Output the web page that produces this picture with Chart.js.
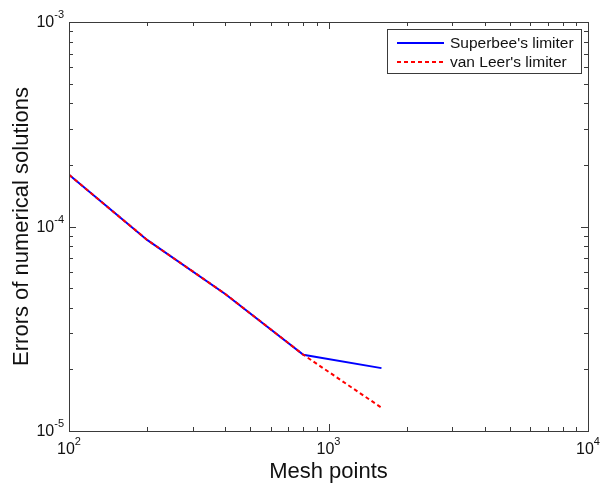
<!DOCTYPE html>
<html><head><meta charset="utf-8">
<script src="https://cdn.jsdelivr.net/npm/chart.js@4/dist/chart.umd.min.js"></script>
<style>html,body{margin:0;padding:0;background:#fff}#wrap{width:600px;height:484px;position:relative}</style>
</head><body><div id="wrap"><canvas id="c" width="600" height="484"></canvas></div>
<script>
const meshPoints = [100, 200, 400, 800, 1600];
const superbee = [1.79e-4, 8.6e-5, 4.68e-5, 2.36e-5, 2.03e-5];
const vanLeer  = [1.79e-4, 8.6e-5, 4.68e-5, 2.36e-5, 1.30e-5];
const seriesLabels = ["Superbee's limiter", "van Leer's limiter"];
const xTickExps = [2, 3, 4];
const yTickExps = [-5, -4, -3];
const xTitle = "Mesh points";
const yTitle = "Errors of numerical solutions";

const FONT = "'Liberation Sans', Arial, sans-serif";
const AX = '#3a3a3a';

const decorPlugin = {
  id: 'decor',
  afterDatasetsDraw(chart) {
    const ctx = chart.ctx, a = chart.chartArea;
    const xs = chart.scales.x, ys = chart.scales.y;
    ctx.save();
    ctx.strokeStyle = AX; ctx.lineWidth = 1;
    ctx.strokeRect(Math.round(a.left)+0.5, Math.round(a.top)+0.5, Math.round(a.right-a.left), Math.round(a.bottom-a.top));
    const drawTicks = (exps, scale, horiz) => {
      for (let e = exps[0]; e <= exps[exps.length-1]; e++) {
        for (let m = 1; m <= 9; m++) {
          if (e === exps[exps.length-1] && m > 1) break;
          const v = m * Math.pow(10, e);
          const p = Math.round(scale.getPixelForValue(v)) + 0.5;
          const len = m === 1 ? 7 : 4;
          ctx.beginPath();
          if (horiz) {
            ctx.moveTo(p, a.bottom); ctx.lineTo(p, a.bottom - len);
            ctx.moveTo(p, a.top); ctx.lineTo(p, a.top + len);
          } else {
            ctx.moveTo(a.left, p); ctx.lineTo(a.left + len, p);
            ctx.moveTo(a.right, p); ctx.lineTo(a.right - len, p);
          }
          ctx.stroke();
        }
      }
    };
    drawTicks(xTickExps, xs, true);
    drawTicks(yTickExps, ys, false);
    ctx.fillStyle = '#111';
    ctx.textBaseline = 'middle';
    const big = '16px ' + FONT, small = '11px ' + FONT;
    xTickExps.forEach(e => {
      const x = xs.getPixelForValue(Math.pow(10, e));
      ctx.font = big; const w1 = ctx.measureText('10').width;
      ctx.font = small; const w2 = ctx.measureText(String(e)).width;
      const x0 = x - (w1 + w2) / 2;
      ctx.font = big; ctx.textAlign = 'left'; ctx.fillText('10', x0, a.bottom + 19);
      ctx.font = small; ctx.fillText(String(e), x0 + w1, a.bottom + 11);
    });
    yTickExps.forEach(e => {
      const y = ys.getPixelForValue(Math.pow(10, e));
      ctx.font = small; const w2 = ctx.measureText(String(e)).width;
      ctx.font = big; const w1 = ctx.measureText('10').width;
      const xr = a.left - 5;
      ctx.textAlign = 'left';
      ctx.font = big; ctx.fillText('10', xr - w1 - w2, y + 1);
      ctx.font = small; ctx.fillText(String(e), xr - w2, y - 7);
    });
    ctx.font = '22px ' + FONT; ctx.textAlign = 'center';
    ctx.fillText(xTitle, (a.left + a.right) / 2, 472);
    ctx.save();
    ctx.translate(22, (a.top + a.bottom) / 2);
    ctx.rotate(-Math.PI / 2);
    ctx.fillText(yTitle, 0, 0);
    ctx.restore();
    const lx = 387.5, ly = 29.5, lw = 194, lh = 44;
    ctx.fillStyle = '#fff'; ctx.fillRect(lx, ly, lw, lh);
    ctx.strokeStyle = AX; ctx.lineWidth = 1; ctx.strokeRect(lx, ly, lw, lh);
    const ds = chart.data.datasets;
    ds.forEach((d, i) => {
      const yy = 43 + i * 19;
      ctx.strokeStyle = d.borderColor; ctx.lineWidth = 2;
      ctx.setLineDash(d.borderDash || []);
      ctx.beginPath(); ctx.moveTo(397, yy); ctx.lineTo(444, yy); ctx.stroke();
      ctx.setLineDash([]);
      ctx.fillStyle = '#111'; ctx.font = '15.5px ' + FONT; ctx.textAlign = 'left';
      ctx.fillText(d.label, 450, yy + 1);
    });
    ctx.restore();
  }
};

new Chart(document.getElementById('c'), {
  type: 'line',
  data: {
    datasets: [
      { label: seriesLabels[0], data: meshPoints.map((x, i) => ({x, y: superbee[i]})),
        borderColor: '#0000ff', borderWidth: 2, pointRadius: 0, fill: false, tension: 0, order: 1 },
      { label: seriesLabels[1], data: meshPoints.map((x, i) => ({x, y: vanLeer[i]})),
        borderColor: '#ff0000', borderWidth: 2, borderDash: [4, 3], pointRadius: 0, fill: false, tension: 0, order: 0 }
    ]
  },
  options: {
    responsive: false, animation: false, devicePixelRatio: 1,
    layout: { padding: { left: 69, right: 12, top: 22, bottom: 53 } },
    plugins: { legend: { display: false }, tooltip: { enabled: false } },
    scales: {
      x: { type: 'logarithmic', min: Math.pow(10, xTickExps[0]), max: Math.pow(10, xTickExps[xTickExps.length-1]),
           ticks: { display: false }, grid: { display: false, drawTicks: false }, border: { display: false } },
      y: { type: 'logarithmic', min: Math.pow(10, yTickExps[0]), max: Math.pow(10, yTickExps[yTickExps.length-1]),
           ticks: { display: false }, grid: { display: false, drawTicks: false }, border: { display: false } }
    }
  },
  plugins: [decorPlugin]
});
</script></body></html>
